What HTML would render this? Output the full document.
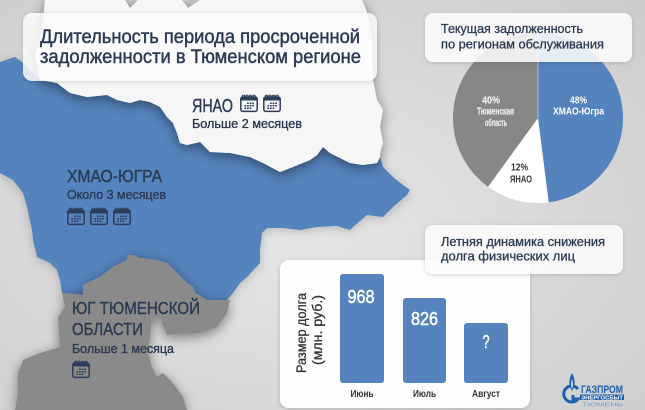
<!DOCTYPE html>
<html><head><meta charset="utf-8">
<style>
html,body{margin:0;padding:0;width:645px;height:410px;overflow:hidden;background:#d9d9d9}
svg{display:block}
text{font-family:"Liberation Sans Narrow","Liberation Sans","Noto Sans CJK JP",sans-serif}
</style></head><body>
<svg width="645" height="410" viewBox="0 0 645 410" xmlns="http://www.w3.org/2000/svg">
<defs>
<radialGradient id="bg" cx="0.45" cy="0.55" r="0.75">
<stop offset="0" stop-color="#e6e6e6"/>
<stop offset="1" stop-color="#cdcdcd"/>
</radialGradient>
<filter id="sh" x="-20%" y="-20%" width="140%" height="140%">
<feDropShadow dx="0" dy="3" stdDeviation="6" flood-color="#000" flood-opacity="0.45"/>
</filter>
<filter id="sh2" x="-20%" y="-20%" width="140%" height="140%">
<feDropShadow dx="0" dy="2" stdDeviation="5" flood-color="#000" flood-opacity="0.2"/>
</filter>
<filter id="bs" x="-10%" y="-10%" width="120%" height="130%">
<feDropShadow dx="0" dy="1" stdDeviation="2" flood-color="#000" flood-opacity="0.18"/>
</filter>
<g id="cal" fill="none" stroke="#2c3d58">
<rect x="0.8" y="3" width="16.4" height="14.4" rx="2" stroke-width="1.5"/>
<rect x="1" y="3.5" width="16" height="3" fill="#2c3d58" stroke="none"/>
<circle cx="3.5" cy="2.3" r="1.2" stroke-width="1"/>
<circle cx="7" cy="2.3" r="1.2" stroke-width="1"/>
<circle cx="10.5" cy="2.3" r="1.2" stroke-width="1"/>
<circle cx="14" cy="2.3" r="1.2" stroke-width="1"/>
<g fill="#2c3d58" stroke="none">
<rect x="7" y="8.5" width="1.7" height="1.5"/><rect x="9.6" y="8.5" width="1.7" height="1.5"/><rect x="12.2" y="8.5" width="1.7" height="1.5"/>
<rect x="4.4" y="11" width="1.7" height="1.5"/><rect x="7" y="11" width="1.7" height="1.5"/><rect x="9.6" y="11" width="1.7" height="1.5"/><rect x="12.2" y="11" width="1.7" height="1.5"/>
<rect x="4.4" y="13.5" width="1.7" height="1.5"/><rect x="7" y="13.5" width="1.7" height="1.5"/><rect x="9.6" y="13.5" width="1.7" height="1.5"/>
</g>
</g>
</defs>

<rect width="645" height="410" fill="url(#bg)"/>

<!-- KHMAO blue -->
<path filter="url(#sh2)" fill="#5483bd" d="M0,62 L15,57 L22,62 L30,70 L40,80 L57,83 L70,93 L87,97 L107,95 L117,100 L130,103 L140,100 L150,102 L160,107 L167,117 L173,123 L177,133 L180,143 L187,145 L200,142 L210,152 L230,153 L250,157 L263,163 L280,172 L293,167 L310,160 L317,155 L323,147 L330,153 L350,163 L363,165 L377,163 L380,157 L383,167 L393,177 L403,185 L410,190 L407,195 L393,207 L383,217 L367,215 L353,227 L350,230 L337,226 L317,227 L300,230 L283,228 L267,228 L262,233 L260,250 L260,263 L247,277 L240,283 L233,293 L227,300 L207,300 L195,293 L193,287 L187,283 L177,273 L167,263 L157,260 L140,258 L133,255 L128,255 L127,260 L113,267 L100,277 L83,285 L83,295 L62,293 L60,280 L57,270 L50,263 L37,257 L33,240 L32,230 L27,207 L23,193 L13,180 L0,173 Z"/>

<!-- YNAO white -->
<path filter="url(#sh)" fill="#f6f6f6" d="M45,0 L125,0 L130,8 L138,0 L182,0 L188,8 L200,0 L362,0 L368,15 L372,40 L373,80 L377,100 L383,110 L380,127 L383,143 L380,153 L380,157 L377,163 L363,165 L350,163 L330,153 L323,147 L317,155 L310,160 L293,167 L280,172 L263,163 L250,157 L230,153 L210,152 L200,142 L187,145 L180,143 L177,133 L173,123 L167,117 L160,107 L150,102 L140,100 L130,103 L117,100 L107,95 L87,97 L70,93 L57,83 L40,80 L35,55 L42,30 Z"/>

<!-- South gray -->
<path filter="url(#sh)" fill="#8a8a8a" d="M62,293 L83,295 L83,285 L100,277 L113,267 L127,260 L128,255 L133,255 L140,258 L157,260 L167,263 L177,273 L187,283 L193,287 L195,293 L207,300 L230,300 L227,313 L217,327 L200,333 L167,335 L162,323 L163,317 L152,317 L150,337 L148,353 L152,367 L157,377 L163,373 L173,383 L183,397 L187,410 L15,410 L18,393 L18,373 L23,360 L40,353 L60,347 L58,317 L65,307 Z"/>

<!-- Title box -->
<rect x="23" y="13" width="354" height="68" rx="9" fill="#ffffff" fill-opacity="0.82" filter="url(#bs)"/>
<g fill="#2b3a52" stroke="#2b3a52" stroke-width="0.45">
<text x="40" y="43" font-size="19.5" textLength="320" lengthAdjust="spacingAndGlyphs">Длительность периода просроченной</text>
<text x="40" y="63" font-size="19.5" textLength="321" lengthAdjust="spacingAndGlyphs">задолженности в Тюменском регионе</text>
</g>

<!-- Map labels -->
<g fill="#2b3a52" stroke="#2b3a52" stroke-width="0.4">
<text x="192" y="112" font-size="18.5" textLength="41" lengthAdjust="spacingAndGlyphs">ЯНАО</text>
<text x="192" y="128" font-size="12.5" textLength="110" lengthAdjust="spacingAndGlyphs" stroke-width="0.35">Больше 2 месяцев</text>
<text x="67" y="182" font-size="17.5" textLength="95" lengthAdjust="spacingAndGlyphs">ХМАО-ЮГРА</text>
<text x="67" y="199" font-size="12.5" textLength="99" lengthAdjust="spacingAndGlyphs" stroke-width="0.35">Около 3 месяцев</text>
<text x="72" y="314" font-size="17.5" textLength="128" lengthAdjust="spacingAndGlyphs">ЮГ ТЮМЕНСКОЙ</text>
<text x="72" y="335" font-size="17.5" textLength="71" lengthAdjust="spacingAndGlyphs">ОБЛАСТИ</text>
<text x="72" y="353" font-size="12.5" textLength="102" lengthAdjust="spacingAndGlyphs" stroke-width="0.35">Больше 1 месяца</text>
</g>
<use href="#cal" x="240" y="94"/>
<use href="#cal" x="263" y="94"/>
<use href="#cal" x="67" y="207"/>
<use href="#cal" x="90" y="207"/>
<use href="#cal" x="113" y="207"/>
<use href="#cal" x="72" y="360"/>

<!-- Pie -->
<path fill="#5483bd" d="M538,118 L538,33 A85,85 0 0 1 548.65,202.33 Z"/>
<path fill="#ffffff" d="M538,118 L548.65,202.33 A85,85 0 0 1 488.04,186.77 Z"/>
<path fill="#878787" d="M538,118 L488.04,186.77 A85,85 0 0 1 538,33 Z"/>
<line x1="538" y1="33" x2="538" y2="118" stroke="#ffffff" stroke-width="0.8" stroke-opacity="0.6"/>
<g font-size="10.5" text-anchor="middle" font-weight="bold">
<text x="578.5" y="103.5" fill="#ffffff" textLength="17" lengthAdjust="spacingAndGlyphs">48%</text>
<text x="578.5" y="114.5" fill="#ffffff" textLength="51" lengthAdjust="spacingAndGlyphs">ХМАО-Югра</text>
<text x="491" y="103.5" fill="#eeeeee" stroke="#eeeeee" stroke-width="0.2" textLength="18" lengthAdjust="spacingAndGlyphs">40%</text>
<text x="495.5" y="114.5" fill="#eeeeee" stroke="#eeeeee" stroke-width="0.2" textLength="37" lengthAdjust="spacingAndGlyphs">Тюменская</text>
<text x="496" y="126" fill="#eeeeee" stroke="#eeeeee" stroke-width="0.2" textLength="22" lengthAdjust="spacingAndGlyphs">область</text>
<text x="519.5" y="170.5" fill="#333333" textLength="17" lengthAdjust="spacingAndGlyphs">12%</text>
<text x="521" y="182.5" fill="#333333" textLength="22" lengthAdjust="spacingAndGlyphs">ЯНАО</text>
</g>

<!-- Pie title box -->
<rect x="425" y="13" width="207" height="49" rx="8" fill="#ffffff" fill-opacity="0.85" filter="url(#bs)"/>
<g fill="#2b3a52" stroke="#2b3a52" stroke-width="0.3" font-size="13">
<text x="441" y="33" textLength="142" lengthAdjust="spacingAndGlyphs">Текущая задолженность</text>
<text x="441" y="48.5" textLength="163" lengthAdjust="spacingAndGlyphs">по регионам обслуживания</text>
</g>

<!-- Bar panel -->
<rect x="280" y="260" width="250" height="148" rx="9" fill="#ffffff" fill-opacity="0.97" filter="url(#bs)"/>
<rect x="340" y="274" width="44" height="109" rx="3" fill="#5483bd"/>
<rect x="403" y="298" width="43" height="85" rx="3" fill="#5483bd"/>
<rect x="464" y="323" width="44" height="60" rx="3" fill="#5483bd"/>
<g fill="#ffffff" stroke="#ffffff" stroke-width="0.5" font-size="18.5" text-anchor="middle">
<text x="361" y="303" textLength="27" lengthAdjust="spacingAndGlyphs">968</text>
<text x="424.5" y="325" textLength="27" lengthAdjust="spacingAndGlyphs">826</text>
<text x="486" y="348" textLength="7" lengthAdjust="spacingAndGlyphs">?</text>
</g>
<g fill="#333333" font-size="10.5" font-weight="bold" text-anchor="middle">
<text x="362" y="397" textLength="23" lengthAdjust="spacingAndGlyphs">Июнь</text>
<text x="424.5" y="397" textLength="23" lengthAdjust="spacingAndGlyphs">Июль</text>
<text x="486" y="397" textLength="28" lengthAdjust="spacingAndGlyphs">Август</text>
</g>
<g fill="#333333" stroke="#333333" stroke-width="0.3" font-size="14" text-anchor="middle">
<text transform="translate(306,333) rotate(-90)" textLength="80" lengthAdjust="spacingAndGlyphs">Размер долга</text>
<text transform="translate(322,330) rotate(-90)" textLength="70" lengthAdjust="spacingAndGlyphs">(млн. руб.)</text>
</g>

<!-- Bar title box -->
<rect x="425" y="225" width="198" height="49" rx="8" fill="#ffffff" fill-opacity="0.85" filter="url(#bs)"/>
<g fill="#2b3a52" stroke="#2b3a52" stroke-width="0.3" font-size="13">
<text x="441" y="246" textLength="164" lengthAdjust="spacingAndGlyphs">Летняя динамика снижения</text>
<text x="441" y="260.5" textLength="134" lengthAdjust="spacingAndGlyphs">долга физических лиц</text>
</g>

<!-- Logo -->
<g>
<path d="M578,389 A8,8 0 1 0 578,399 L573,399 L573,395" fill="none" stroke="#1d60ad" stroke-width="3"/>
<path d="M572,373 C575,379 576,384 572,391 C568,384 569,379 572,373 Z" fill="#1d60ad"/>
<path d="M572,379 C573,383 573,386 572,389 C571,386 571,383 572,379 Z" fill="#ffffff"/>
<text x="581" y="393" font-size="11" font-weight="bold" fill="#1d60ad" textLength="42" lengthAdjust="spacingAndGlyphs">ГАЗПРОМ</text>
<rect x="580" y="394.5" width="44" height="5.5" fill="#1d60ad"/>
<text x="581" y="399.3" font-size="5" font-weight="bold" fill="#ffffff" textLength="42" lengthAdjust="spacingAndGlyphs">ЭНЕРГОСБЫТ</text>
<text x="582" y="406.5" font-size="5" fill="#6f9fd0" textLength="41" lengthAdjust="spacingAndGlyphs">ТЮМЕНЬ</text>
</g>
</svg>
</body></html>
